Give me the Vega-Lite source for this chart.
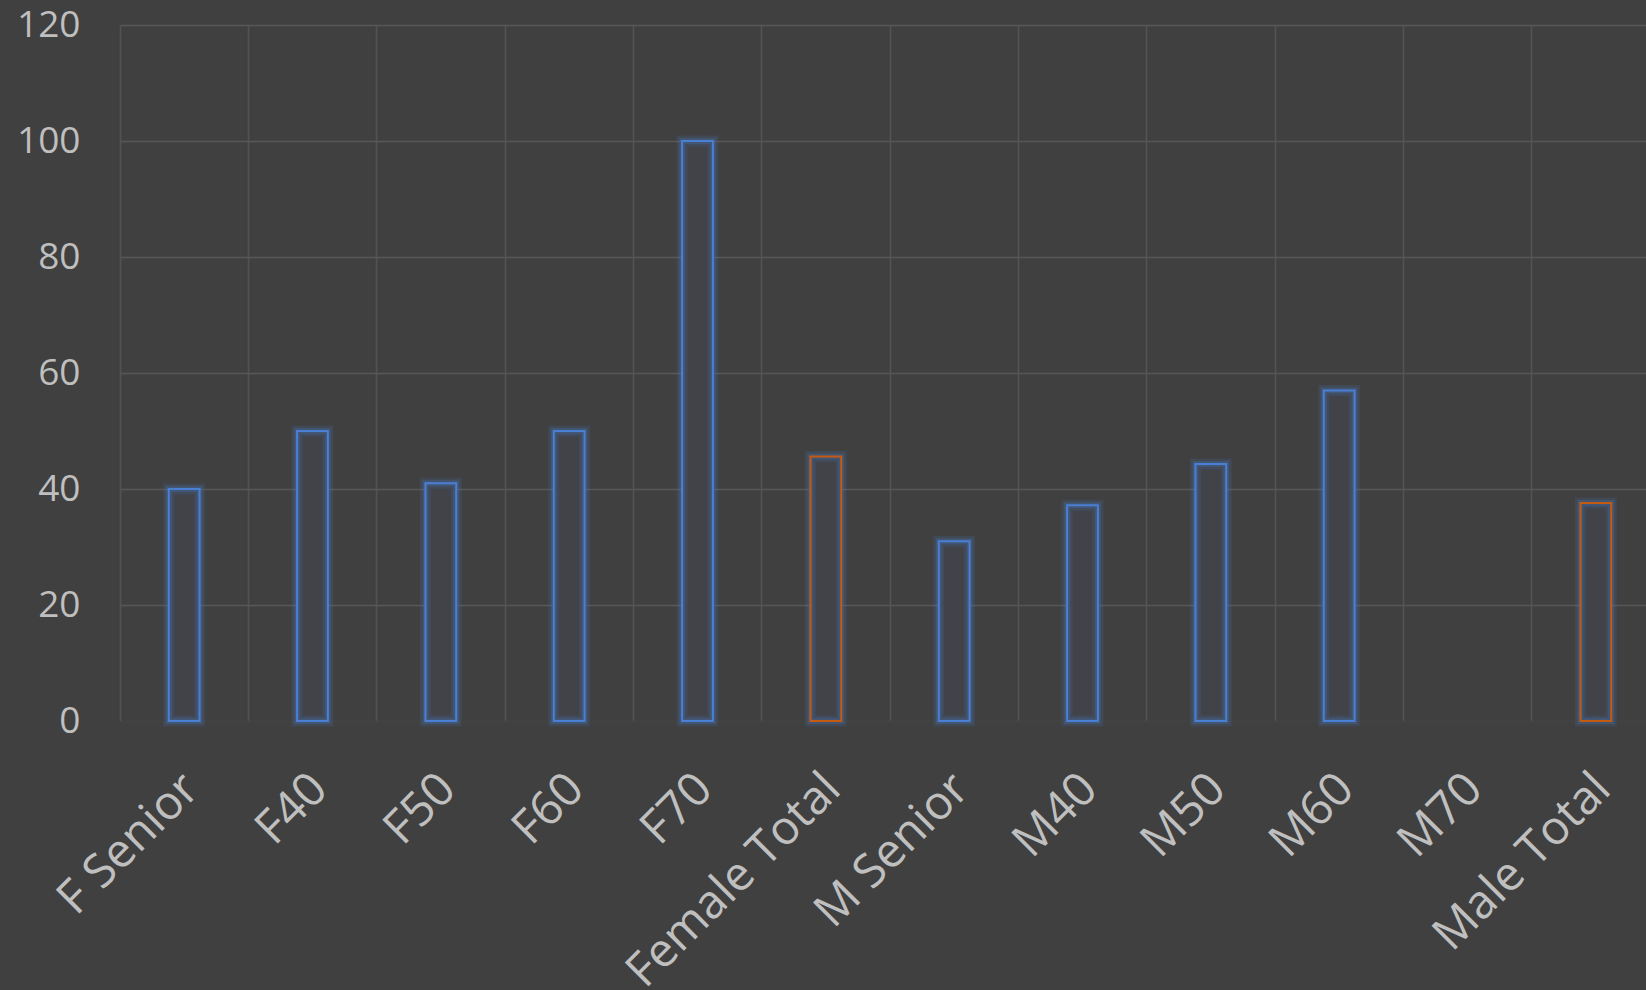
{
  "$schema": "https://vega.github.io/schema/vega-lite/v6.json",
  "width": 1526,
  "height": 696,
  "autosize": "none",
  "padding": {"left": 120, "top": 25, "right": 0, "bottom": 269},
  "background": "#404040",
  "config": {
    "view": {"stroke": null},
    "font": "Open Sans",
    "axis": {"labelFont": "Open Sans", "labelColor": "#bfbfbf", "labelFontSize": 37, "domain": false, "ticks": false, "gridColor": "#575757", "gridWidth": 1.5}
  },
  "data": {
    "values": [
      {"category": "F Senior", "value": 40, "kind": "group"},
      {"category": "F40", "value": 50, "kind": "group"},
      {"category": "F50", "value": 41, "kind": "group"},
      {"category": "F60", "value": 50, "kind": "group"},
      {"category": "F70", "value": 100, "kind": "group"},
      {"category": "Female Total", "value": 45.6, "kind": "total"},
      {"category": "M Senior", "value": 31, "kind": "group"},
      {"category": "M40", "value": 37.2, "kind": "group"},
      {"category": "M50", "value": 44.3, "kind": "group"},
      {"category": "M60", "value": 57, "kind": "group"},
      {"category": "M70", "value": null, "kind": "group"},
      {"category": "Male Total", "value": 37.6, "kind": "total"}
    ]
  },
  "encoding": {
    "x": {
      "field": "category", "type": "nominal", "sort": null,
      "scale": {"domain": ["F Senior", "F40", "F50", "F60", "F70", "Female Total", "M Senior", "M40", "M50", "M60", "M70", "Male Total"], "paddingInner": 0, "paddingOuter": 0, "range": [0, 1540]},
      "axis": {"title": null, "labelAngle": -45, "labelPadding": 44, "labelOffset": -9, "labelFontSize": 47, "labelLimit": 0, "labelOverlap": false, "bandPosition": 0, "grid": true, "gridColor": "#535353"}
    },
    "y": {
      "field": "value", "type": "quantitative",
      "scale": {"domain": [0, 120], "nice": false},
      "axis": {"title": null, "values": [0, 20, 40, 60, 80, 100, 120], "labelPadding": 40,
        "gridColor": {"condition": {"test": "datum.value <= 0", "value": "#434343"}, "value": "#575757"}}
    }
  },
  "layer": [
    {
      "mark": {"type": "bar", "width": {"band": 0.24}, "fill": "#414349", "stroke": "#4a7fd6", "strokeWidth": 11, "strokeOpacity": 0.14}
    },
    {
      "mark": {"type": "bar", "width": {"band": 0.24}, "fillOpacity": 0, "stroke": "#4a7fd6", "strokeWidth": 6, "strokeOpacity": 0.22}
    },
    {
      "mark": {"type": "bar", "width": {"band": 0.24}, "fillOpacity": 0, "strokeWidth": 2},
      "encoding": {
        "stroke": {"field": "kind", "type": "nominal", "scale": {"domain": ["group", "total"], "range": ["#4a7fd6", "#c55a11"]}, "legend": null}
      }
    }
  ]
}
